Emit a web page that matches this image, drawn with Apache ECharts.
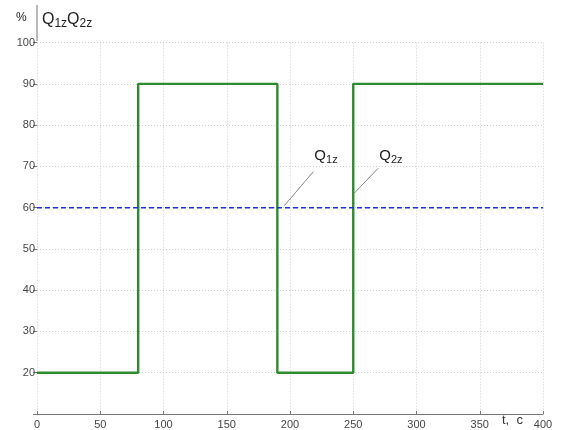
<!DOCTYPE html>
<html>
<head>
<meta charset="utf-8">
<script src="https://cdn.jsdelivr.net/npm/echarts@6/dist/echarts.min.js"></script>
<style>
  html, body { margin: 0; padding: 0; background: #fff; }
  #chart { width: 561px; height: 430px; }
</style>
</head>
<body>
<div id="chart"></div>
<script>
// Time axis ticks (t, c) and value axis ticks (%)
const xTicks = [0, 50, 100, 150, 200, 250, 300, 350, 400];
const yTicks = [20, 30, 40, 50, 60, 70, 80, 90, 100];

// Q2z: step signal, time points and values
const q2Time = [0, 80, 80, 190, 190, 250, 250, 400];
const q2Value = [20, 20, 90, 90, 20, 20, 90, 90];

// Q1z: constant set-point
const q1Time = [0, 400];
const q1Value = [60, 60];

const FONT = 'Liberation Sans, Arial, sans-serif';
const chart = echarts.init(document.getElementById('chart'));

const toPairs = (xs, ys) => xs.map((x, i) => [x, ys[i]]);

chart.setOption({
  animation: false,
  backgroundColor: '#fff',
  grid: { left: 37, right: 18, top: 42.6, bottom: 14.6 },
  xAxis: {
    type: 'value', min: 0, max: 400, interval: 50,
    axisLine: { lineStyle: { color: '#777', width: 1 } },
    axisTick: { show: true, length: 3, inside: true, lineStyle: { color: '#777' } },
    axisLabel: {
      color: '#444', fontFamily: FONT, fontSize: 11, margin: 5,
      formatter: v => (xTicks.includes(v) ? String(v) : '')
    },
    splitLine: { show: true, lineStyle: { color: '#cfcfcf', type: [1, 2], width: 1 } }
  },
  yAxis: {
    type: 'value', min: 10, max: 100, interval: 10,
    axisLine: { show: false },
    axisTick: { show: true, length: 4, lineStyle: { color: '#777' } },
    axisLabel: {
      color: '#444', fontFamily: FONT, fontSize: 11, margin: 2,
      formatter: v => (yTicks.includes(v) ? String(v) : '')
    },
    splitLine: { show: true, lineStyle: { color: '#cfcfcf', type: [1, 2], width: 1 } }
  },
  series: [
    {
      name: 'Q1z', type: 'line', data: toPairs(q1Time, q1Value),
      symbol: 'none', lineStyle: { color: '#1f2fd0', width: 1.5, type: [5, 3] }, z: 3
    },
    {
      name: 'Q2z', type: 'line', data: toPairs(q2Time, q2Value),
      symbol: 'none', lineStyle: { color: '#2e8b2e', width: 2.4 }, z: 2
    }
  ]
});

// Annotations placed relative to the axes
const px = (x, y) => chart.convertToPixel({ gridIndex: 0 }, [x, y]);
const a1 = px(190, 60);
const a2 = px(250, 64);
const labelY = px(0, 72.5)[1];

const richStyle = (text, qSize, sSize, drop) => ({
  rich: {
    q: { fontSize: qSize, fontFamily: FONT, fill: '#222' },
    s: { fontSize: sSize, fontFamily: FONT, fill: '#222', padding: [drop, 0, 0, 0] }
  },
  text: text
});

chart.setOption({
  graphic: [
    { type: 'line', shape: { x1: a1[0] + 7, y1: a1[1] - 2, x2: a1[0] + 36, y2: a1[1] - 36 },
      style: { stroke: '#888', lineWidth: 1 } },
    { type: 'text', x: a1[0] + 37, y: labelY - 10,
      style: richStyle('{q|Q}{s|1z}', 15, 11, 8) },
    { type: 'line', shape: { x1: a2[0] + 1, y1: a2[1] + 2, x2: a2[0] + 25, y2: a2[1] - 23 },
      style: { stroke: '#888', lineWidth: 1 } },
    { type: 'text', x: a2[0] + 26, y: labelY - 10,
      style: richStyle('{q|Q}{s|2z}', 15, 11, 8) },
    // unit header at top-left
    { type: 'text', x: 16, y: 12, style: { text: '%', fontSize: 12, fontFamily: FONT, fill: '#222' } },
    { type: 'line', shape: { x1: 37, y1: 5, x2: 37, y2: 41 }, style: { stroke: '#777', lineWidth: 1 } },
    { type: 'text', x: 42, y: 9,
      style: richStyle('{q|Q}{s|1z}{q|Q}{s|2z}', 16, 12, 9) },
    { type: 'text', x: 502, y: 414, style: { text: 't,  c', fontSize: 13, fontFamily: FONT, fill: '#333' } }
  ]
});
</script>
</body>
</html>
